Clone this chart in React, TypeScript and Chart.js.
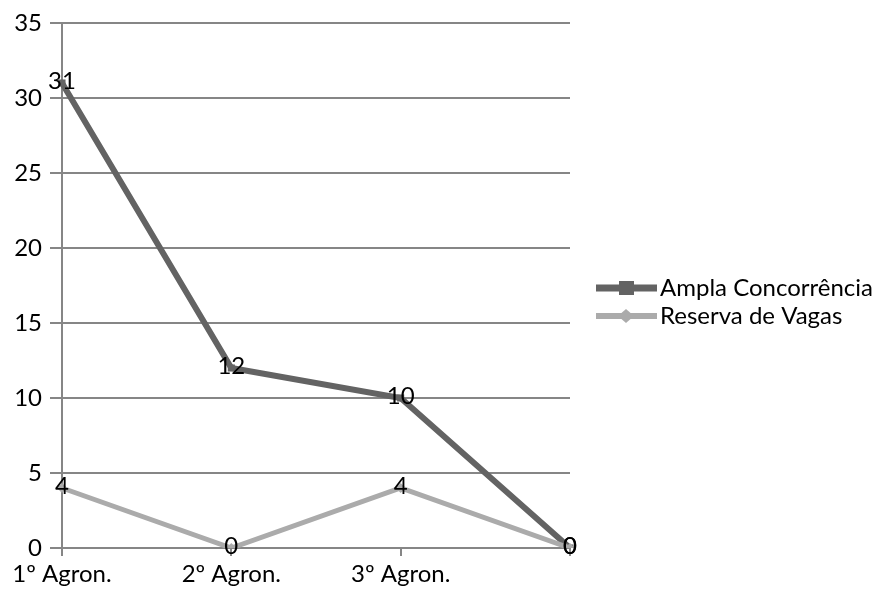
import React, { useEffect, useRef } from "react";
import { Chart, registerables } from "chart.js";

Chart.register(...registerables);

const categories = ["1º Agron.", "2º Agron.", "3º Agron.", ""];
const amplaConcorrencia = [31, 12, 10, 0];
const reservaVagas = [4, 0, 4, 0];
const seriesNames = ["Ampla Concorrência", "Reserva de Vagas"];
const yTicks = { min: 0, max: 35, step: 5 };

const FONT = "Lato, 'Open Sans', sans-serif";
const FS = 24;
const GRID = "#868686";
const DARK = "#636363";
const LIGHT = "#ABABAB";

const dataLabels = {
  id: "dataLabels",
  afterDatasetsDraw(chart: any) {
    const ctx = chart.ctx;
    ctx.save();
    ctx.font = `${FS}px ${FONT}`;
    ctx.fillStyle = "#000";
    ctx.textAlign = "center";
    ctx.textBaseline = "middle";
    chart.data.datasets.forEach((ds: any, i: number) => {
      const meta = chart.getDatasetMeta(i);
      meta.data.forEach((pt: any, j: number) => {
        ctx.fillText(String(ds.data[j]), pt.x, pt.y - 2);
      });
    });
    ctx.restore();
  },
};

const customLegend = {
  id: "customLegend",
  afterDraw(chart: any) {
    const ctx = chart.ctx;
    ctx.save();
    const items = [
      { name: seriesNames[0], color: DARK, lw: 7, style: "square" },
      { name: seriesNames[1], color: LIGHT, lw: 6, style: "diamond" },
    ];
    const x0 = 596, x1 = 657, cx = 626;
    items.forEach((it, i) => {
      const y = 288 + i * 28;
      ctx.strokeStyle = it.color;
      ctx.lineWidth = it.lw;
      ctx.beginPath();
      ctx.moveTo(x0, y);
      ctx.lineTo(x1, y);
      ctx.stroke();
      ctx.fillStyle = it.color;
      if (it.style === "square") {
        ctx.fillRect(cx - 7, y - 7, 15, 14);
      } else {
        ctx.beginPath();
        ctx.moveTo(cx, y - 7);
        ctx.lineTo(cx + 8, y);
        ctx.lineTo(cx, y + 7);
        ctx.lineTo(cx - 8, y);
        ctx.closePath();
        ctx.fill();
      }
      ctx.fillStyle = "#000";
      ctx.font = `${FS}px ${FONT}`;
      ctx.textAlign = "left";
      ctx.textBaseline = "middle";
      ctx.fillText(it.name, 660, y);
    });
    ctx.restore();
  },
};

export default function App() {
  const ref = useRef<HTMLCanvasElement>(null);
  useEffect(() => {
    document.body.style.margin = "0";
    const chart = new Chart(ref.current!, {
      type: "line",
      data: {
        labels: categories,
        datasets: [
          {
            label: seriesNames[0],
            data: amplaConcorrencia,
            borderColor: DARK,
            backgroundColor: DARK,
            borderWidth: 6,
            pointStyle: "rect",
            pointRadius: 5,
            pointBorderWidth: 0,
            order: 1,
          },
          {
            label: seriesNames[1],
            data: reservaVagas,
            borderColor: LIGHT,
            backgroundColor: LIGHT,
            borderWidth: 5,
            pointStyle: "rectRot",
            pointRadius: 5,
            pointBorderWidth: 0,
            order: 0,
          },
        ],
      },
      options: {
        animation: false,
        responsive: false,
        layout: { padding: { left: 0, right: 311, top: 23, bottom: 0 } },
        plugins: { legend: { display: false }, tooltip: { enabled: false } },
        scales: {
          x: {
            offset: false,
            grid: {
              display: true,
              drawOnChartArea: false,
              drawTicks: true,
              tickLength: 8,
              color: GRID,
              lineWidth: 2,
            },
            border: { display: true, color: GRID, width: 2 },
            ticks: {
              color: "#000",
              font: { family: FONT, size: FS },
              padding: 4,
              maxRotation: 0,
              autoSkip: false,
            },
            afterFit(scale: any) {
              scale.height = 46;
            },
          },
          y: {
            min: yTicks.min,
            max: yTicks.max,
            ticks: {
              stepSize: yTicks.step,
              color: "#000",
              font: { family: FONT, size: FS },
              padding: 8,
            },
            grid: {
              color: GRID,
              lineWidth: 2,
              tickLength: 12,
              drawTicks: true,
            },
            border: { display: true, color: GRID, width: 2 },
            afterFit(scale: any) {
              scale.width = 62;
            },
          },
        },
      },
      plugins: [dataLabels, customLegend],
    });
    return () => chart.destroy();
  }, []);
  return (
    <div style={{ position: "absolute", left: 0, top: 0, width: 881, height: 594, background: "#fff" }}>
      <canvas ref={ref} width={881} height={594} style={{ width: 881, height: 594 }} />
    </div>
  );
}
